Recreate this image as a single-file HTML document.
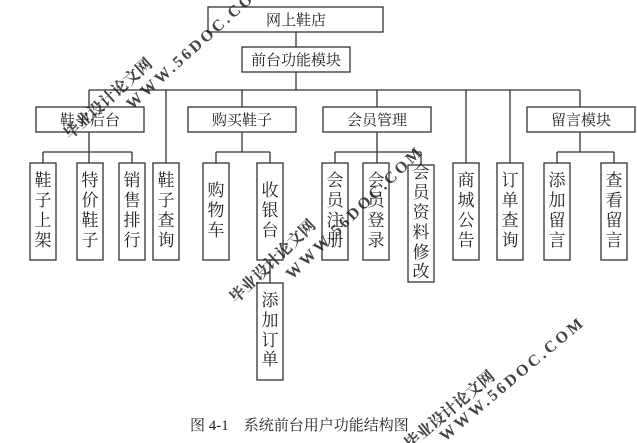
<!DOCTYPE html>
<html><head><meta charset="utf-8"><style>
html,body{margin:0;padding:0;background:#fff;width:637px;height:443px;overflow:hidden}
svg{display:block}
text{font-family:"Liberation Serif","Noto Serif CJK SC","Noto Sans CJK SC",serif;fill:#222}
.wm{font-family:"Liberation Sans","Noto Sans CJK SC",sans-serif;fill:#d04040;font-weight:bold;opacity:.85}
</style></head><body>
<svg width="637" height="443" viewBox="0 0 637 443">
<g fill="#fff" stroke="#333" stroke-width="1.3">
<rect x="208" y="7" width="175" height="25"/>
<rect x="242" y="47" width="108" height="25"/>
<rect x="36" y="107" width="108" height="25"/>
<rect x="188" y="107" width="108" height="25"/>
<rect x="323" y="107" width="108" height="25"/>
<rect x="527" y="107" width="108" height="25"/>
<rect x="30" y="163" width="26" height="97"/>
<rect x="77" y="163" width="26" height="97"/>
<rect x="119" y="163" width="26" height="97"/>
<rect x="153" y="163" width="26" height="97"/>
<rect x="203" y="163" width="26" height="97"/>
<rect x="257" y="163" width="26" height="97"/>
<rect x="322" y="163" width="26" height="97"/>
<rect x="363" y="163" width="26" height="97"/>
<rect x="408" y="165" width="26" height="117"/>
<rect x="453" y="163" width="26" height="97"/>
<rect x="497" y="163" width="26" height="97"/>
<rect x="544" y="163" width="26" height="97"/>
<rect x="601" y="163" width="26" height="97"/>
<rect x="257" y="283" width="26" height="97"/>
</g>
<g stroke="#333" stroke-width="1.3" fill="none">
<path d="M296 32V47M296 72V90M89 90H580"/>
<path d="M89 90V107M166 90V163M242 90V107M377 90V107M466 90V163M510 90V163M580 90V107"/>
<path d="M89 132V152M43 152H132M43 152V163M89 152V163M132 152V163"/>
<path d="M242 132V152M216 152H270M216 152V163M270 152V163M270 260V283"/>
<path d="M377 132V152M335 152H421M335 152V163M377 152V163M421 152V165"/>
<path d="M580 132V152M557 152H614M557 152V163M614 152V163"/>
</g>
<g font-size="15" text-anchor="middle">
<text x="296" y="25">网上鞋店</text>
<text x="296" y="65">前台功能模块</text>
<text x="90" y="125">鞋子后台</text>
<text x="242" y="125">购买鞋子</text>
<text x="377" y="125">会员管理</text>
<text x="581" y="125">留言模块</text>
</g>
<g font-size="17" text-anchor="middle">
<text x="43" y="186">鞋</text><text x="43" y="206">子</text><text x="43" y="226">上</text><text x="43" y="246">架</text>
<text x="90" y="186">特</text><text x="90" y="206">价</text><text x="90" y="226">鞋</text><text x="90" y="246">子</text>
<text x="132" y="186">销</text><text x="132" y="206">售</text><text x="132" y="226">排</text><text x="132" y="246">行</text>
<text x="166" y="186">鞋</text><text x="166" y="206">子</text><text x="166" y="226">查</text><text x="166" y="246">询</text>
<text x="216" y="196">购</text><text x="216" y="216">物</text><text x="216" y="236">车</text>
<text x="270" y="196">收</text><text x="270" y="216">银</text><text x="270" y="236">台</text>
<text x="335" y="186">会</text><text x="335" y="206">员</text><text x="335" y="226">注</text><text x="335" y="246">册</text>
<text x="376" y="186">会</text><text x="376" y="206">员</text><text x="376" y="226">登</text><text x="376" y="246">录</text>
<text x="421" y="178">会</text><text x="421" y="198">员</text><text x="421" y="218">资</text><text x="421" y="238">料</text><text x="421" y="258">修</text><text x="421" y="277">改</text>
<text x="466" y="186">商</text><text x="466" y="206">城</text><text x="466" y="226">公</text><text x="466" y="246">告</text>
<text x="510" y="186">订</text><text x="510" y="206">单</text><text x="510" y="226">查</text><text x="510" y="246">询</text>
<text x="557" y="186">添</text><text x="557" y="206">加</text><text x="557" y="226">留</text><text x="557" y="246">言</text>
<text x="614" y="186">查</text><text x="614" y="206">看</text><text x="614" y="226">留</text><text x="614" y="246">言</text>
<text x="270" y="306">添</text><text x="270" y="326">加</text><text x="270" y="346">订</text><text x="270" y="365">单</text>
</g>
<text x="190" y="430" font-size="15">图 4-1&#160;&#160;&#160;&#160;系统前台用户功能结构图</text>
<g class="wm">
<text font-size="16" transform="translate(70,140) rotate(-42)">毕业设计论文网</text>
<text font-size="16" letter-spacing="3" transform="translate(132,110) rotate(-42)">WWW.56DOC.COM</text>
<text font-size="16" transform="translate(236,304) rotate(-44)">毕业设计论文网</text>
<text font-size="16" letter-spacing="3" transform="translate(292,280) rotate(-44)">WWW.56DOC.COM</text>
<text font-size="16" transform="translate(410,450) rotate(-40)">毕业设计论文网</text>
<text font-size="16" letter-spacing="3" transform="translate(445,442) rotate(-40)">WWW.56DOC.COM</text>
</g>
</svg>
</body></html>
